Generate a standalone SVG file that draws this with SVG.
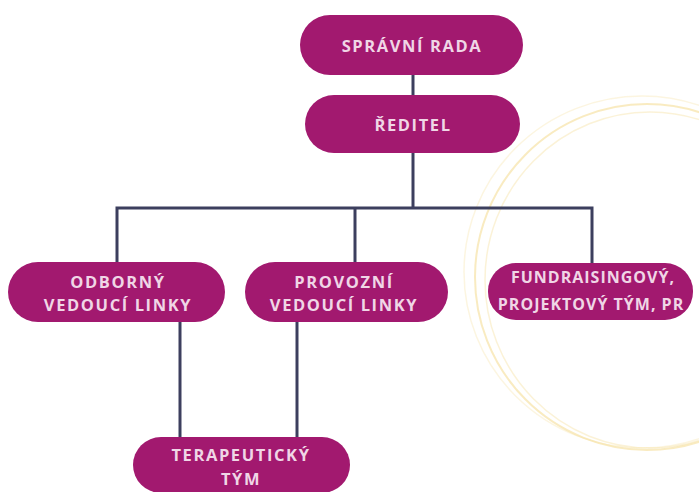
<svg xmlns="http://www.w3.org/2000/svg" width="699" height="492" viewBox="0 0 699 492">
<style>
.box{fill:#a2196f}
.t{font-family:"Open Sans","Liberation Sans",sans-serif;font-weight:700;font-size:16.5px;fill:#f0d6e6;text-anchor:middle;letter-spacing:1.6px}
.c{fill:none;stroke:#3c3f5e;stroke-width:3}
.ring{fill:none;stroke:#f6e3a6}
</style>
<rect width="699" height="492" fill="#ffffff"/>
<g id="decor">
<ellipse class="ring" cx="647" cy="277" rx="172" ry="173" stroke-width="2" opacity="0.7"/>
<ellipse class="ring" cx="650" cy="280" rx="165" ry="168" stroke-width="1.5" opacity="0.45"/>
<ellipse class="ring" cx="642" cy="272" rx="178" ry="176" stroke-width="1.5" opacity="0.35"/>
</g>
<g id="connectors">
<line class="c" x1="413" y1="74" x2="413" y2="96"/>
<line class="c" x1="413" y1="152" x2="413" y2="208"/>
<polyline class="c" points="117,263 117,208 592,208 592,264"/>
<line class="c" x1="355" y1="208" x2="355" y2="263"/>
<line class="c" x1="180" y1="321" x2="180" y2="438"/>
<line class="c" x1="297" y1="321" x2="297" y2="438"/>
</g>
<g id="spravni-rada">
<rect class="box" x="300" y="15" width="223" height="60" rx="30"/>
<text class="t" x="412" y="52">SPRÁVNÍ RADA</text>
</g>
<g id="reditel">
<rect class="box" x="305" y="95" width="215" height="58" rx="29"/>
<text class="t" x="413" y="131">ŘEDITEL</text>
</g>
<g id="odborny">
<rect class="box" x="8" y="262" width="217" height="60" rx="30"/>
<text class="t" x="118" y="288">ODBORNÝ</text>
<text class="t" x="118" y="311">VEDOUCÍ LINKY</text>
</g>
<g id="provozni">
<rect class="box" x="245" y="262" width="203" height="60" rx="30"/>
<text class="t" x="344" y="288">PROVOZNÍ</text>
<text class="t" x="344" y="311">VEDOUCÍ LINKY</text>
</g>
<g id="fundraising">
<rect class="box" x="488" y="263" width="205" height="57" rx="28"/>
<text class="t" x="593" y="283" style="font-size:16px;letter-spacing:1px">FUNDRAISINGOVÝ,</text>
<text class="t" x="591" y="310" style="font-size:16px;letter-spacing:1px">PROJEKTOVÝ TÝM, PR</text>
</g>
<g id="terapeuticky">
<rect class="box" x="133" y="437" width="217" height="56" rx="28"/>
<text class="t" x="241" y="461">TERAPEUTICKÝ</text>
<text class="t" x="241" y="485">TÝM</text>
</g>
</svg>
